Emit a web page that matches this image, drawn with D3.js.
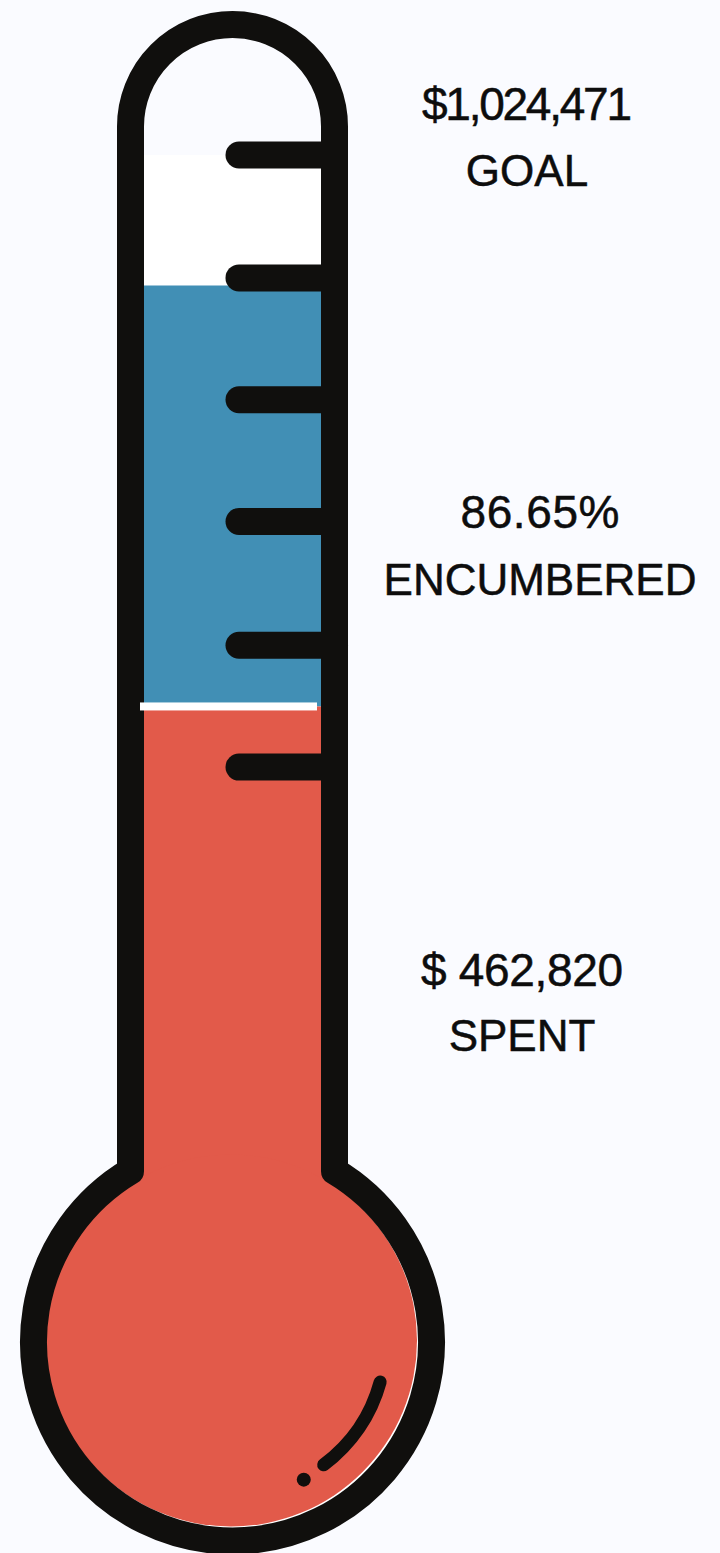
<!DOCTYPE html>
<html>
<head>
<meta charset="utf-8">
<script src="https://cdn.jsdelivr.net/npm/d3@7"></script>
<style>
  html, body { margin: 0; padding: 0; background: #fafbff; }
  svg { display: block; }
  .label { font-family: "Liberation Sans", Arial, sans-serif; fill: #0d0d0d; stroke: #0d0d0d; stroke-width: 0.5px; text-anchor: middle; }
</style>
</head>
<body>
<div id="chart-area"></div>
<script>
//============================DATA============================
var goalAmount = 1024471;
var spentAmount = 462820;
var encumberedPct = 86.65;

var labelValues = ["$1,024,471", "86.65%", "$ 462,820"];
var labelNames = ["GOAL", "ENCUMBERED", "SPENT"];

// tick marks on the tube, in percent of goal
var tickPcts = [99.5, 87.4, 75.4, 63.4, 51.2, 39.2];

//============================GLOBALS============================
var width = 720, height = 1553;

var cx = 232.5;          // centre line of the thermometer
var tubeHalf = 102;      // half width of tube (stroke centre)
var topY = 126.5;        // centre of top rounded cap
var bulbY = 1342;        // bulb centre
var bulbR = 199;         // bulb radius (stroke centre)
var wall = 27;           // outline thickness
var joinY = bulbY - Math.sqrt(bulbR * bulbR - tubeHalf * tubeHalf);

var ink = "#100f0d";
var blue = "#418fb5";
var red = "#e25a4a";

var svg = d3.select("#chart-area")
    .append("svg")
    .attr("width", width)
    .attr("height", height);

// percent of goal -> pixel height on the tube
var y = d3.scaleLinear()
    .domain([0, 100])
    .range([1165, 150]);

var spentPct = spentAmount / goalAmount * 100;

//============================FILLS============================
var left = cx - tubeHalf, right = cx + tubeHalf;

// remaining (white) part, from the top tick down to encumbered level
svg.append("rect")
    .attr("x", left).attr("width", right - left)
    .attr("y", y(tickPcts[0]))
    .attr("height", y(encumberedPct) - y(tickPcts[0]))
    .attr("fill", "#ffffff");

// encumbered
svg.append("rect")
    .attr("x", left).attr("width", right - left)
    .attr("y", y(encumberedPct))
    .attr("height", y(spentPct) - y(encumberedPct))
    .attr("fill", blue);

// spent, down into the bulb
svg.append("circle")
    .attr("cx", cx).attr("cy", bulbY).attr("r", bulbR - 8)
    .attr("fill", "#ffffff");
svg.append("rect")
    .attr("x", left).attr("width", right - left)
    .attr("y", y(spentPct))
    .attr("height", joinY + 20 - y(spentPct))
    .attr("fill", red);
svg.append("circle")
    .attr("cx", cx - 1.5).attr("cy", bulbY - 1.5).attr("r", bulbR - 13)
    .attr("fill", red);

//============================TICKS============================
svg.selectAll(".tick")
    .data(tickPcts)
    .enter()
    .append("line")
    .attr("class", "tick")
    .attr("x1", 239)
    .attr("x2", right)
    .attr("y1", function(d){ return y(d); })
    .attr("y2", function(d){ return y(d); })
    .attr("stroke", ink)
    .attr("stroke-width", wall)
    .attr("stroke-linecap", "round");

//============================OUTLINE============================
var p = d3.path();
p.moveTo(left, joinY);
p.lineTo(left, topY);
p.arc(cx, topY, tubeHalf, Math.PI, 0);
p.lineTo(right, joinY);
var a0 = Math.atan2(joinY - bulbY, right - cx);
var a1 = Math.atan2(joinY - bulbY, left - cx) + 2 * Math.PI;
p.arc(cx, bulbY, bulbR, a0, a1);
p.closePath();

svg.append("path")
    .attr("d", p.toString())
    .attr("fill", "none")
    .attr("stroke", ink)
    .attr("stroke-width", wall)
    .attr("stroke-linejoin", "round");

// spent marker line
svg.append("rect")
    .attr("x", 140)
    .attr("width", 177)
    .attr("y", y(spentPct) - 4)
    .attr("height", 8)
    .attr("fill", "#ffffff");

// highlight on the bulb
var h = d3.path();
h.arc(cx, bulbY, 153, 0.265, 0.932);
svg.append("path")
    .attr("d", h.toString())
    .attr("fill", "none")
    .attr("stroke", ink)
    .attr("stroke-width", 13)
    .attr("stroke-linecap", "round");
svg.append("circle")
    .attr("cx", cx + 155 * Math.cos(1.093))
    .attr("cy", bulbY + 155 * Math.sin(1.093))
    .attr("r", 7)
    .attr("fill", ink);

//============================LABELS============================
var labelPos = [
    { x: 527, y1: 120, y2: 186, w: 210 },
    { x: 540, y1: 528, y2: 595, w: 159 },
    { x: 522, y1: 986, y2: 1051, w: 202 }
];

labelValues.forEach(function(v, i){
    var pos = labelPos[i];
    svg.append("text")
        .attr("class", "label")
        .attr("x", pos.x)
        .attr("y", pos.y1)
        .attr("font-size", "46px")
        .attr("textLength", pos.w)
        .attr("lengthAdjust", "spacing")
        .text(v);
    svg.append("text")
        .attr("class", "label")
        .attr("x", pos.x)
        .attr("y", pos.y2)
        .attr("font-size", "44px")
        .text(labelNames[i]);
});
</script>
</body>
</html>
